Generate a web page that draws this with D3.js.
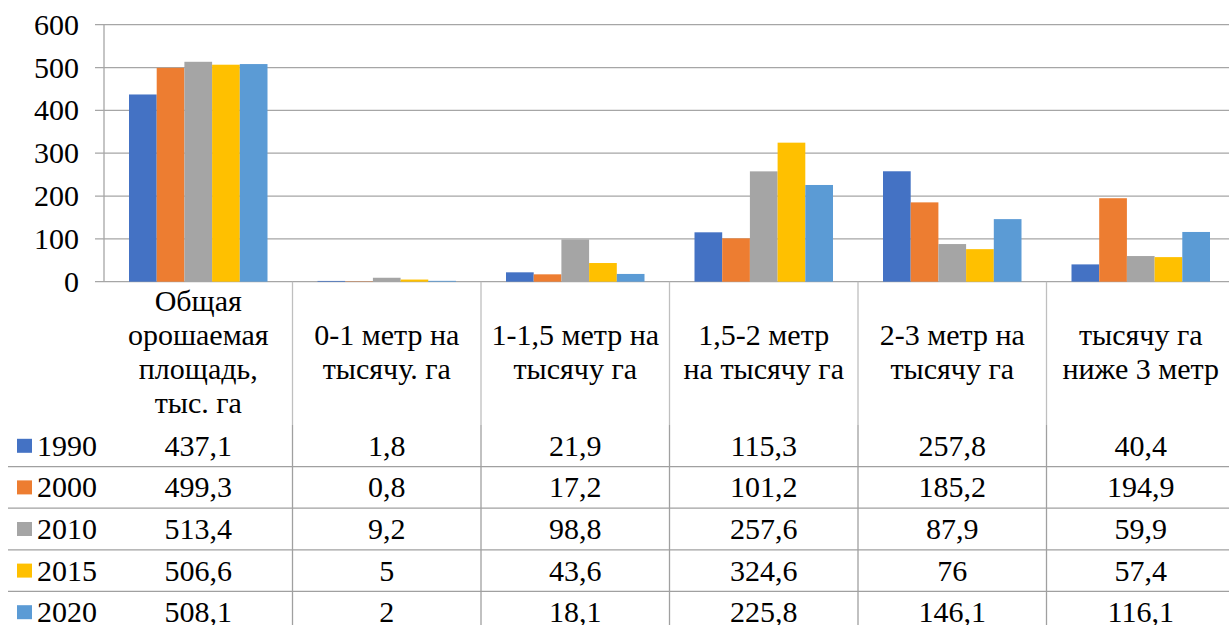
<!DOCTYPE html>
<html><head><meta charset="utf-8"><script src="https://cdn.jsdelivr.net/npm/d3@7"></script>
<style>
  body { margin: 0; }
  svg text { font-family: "Liberation Serif", "Times New Roman", Tinos, serif !important; }
</style>
</head>
<body>
<script>
// chart data
const categories = [
  ["Общая", "орошаемая", "площадь,", "тыс. га"],
  ["0-1 метр на", "тысячу. га"],
  ["1-1,5 метр на", "тысячу га"],
  ["1,5-2 метр", "на тысячу га"],
  ["2-3 метр  на", "тысячу га"],
  ["тысячу га", "ниже 3 метр"]
]
const years = ["1990", "2000", "2010", "2015", "2020"]
const values1990 = [437.1, 1.8, 21.9, 115.3, 257.8, 40.4]
const values2000 = [499.3, 0.8, 17.2, 101.2, 185.2, 194.9]
const values2010 = [513.4, 9.2, 98.8, 257.6, 87.9, 59.9]
const values2015 = [506.6, 5, 43.6, 324.6, 76, 57.4]
const values2020 = [508.1, 2, 18.1, 225.8, 146.1, 116.1]
const labels1990 = ["437,1", "1,8", "21,9", "115,3", "257,8", "40,4"]
const labels2000 = ["499,3", "0,8", "17,2", "101,2", "185,2", "194,9"]
const labels2010 = ["513,4", "9,2", "98,8", "257,6", "87,9", "59,9"]
const labels2015 = ["506,6", "5", "43,6", "324,6", "76", "57,4"]
const labels2020 = ["508,1", "2", "18,1", "225,8", "146,1", "116,1"]
const yTicks = [0, 100, 200, 300, 400, 500, 600]
const colors = ["#4472C4", "#ED7D31", "#A5A5A5", "#FFC000", "#5B9BD5"]

const series = [values1990, values2000, values2010, values2015, values2020]
const seriesLabels = [labels1990, labels2000, labels2010, labels2015, labels2020]

const width = 1229, height = 625
const svg = d3.select('body').append('svg').attr('width', width).attr('height', height)
  .style('display', 'block')
const FONT = '"Times New Roman", "Liberation Serif", serif'

// plot area
const plotLeft = 104, plotRight = 1235, plotTop = 24.7, plotBottom = 281.7
const fontSize = 30

const x = d3.scaleBand().domain(d3.range(categories.length)).range([plotLeft, plotRight])
const xSub = d3.scaleBand().domain(years).range([25, 163.5])
const y = d3.scaleLinear().domain([0, 600]).range([plotBottom, plotTop])

function label(xp, yp, txt, anchor) {
  return svg.append('text').attr('x', xp).attr('y', yp)
    .attr('text-anchor', anchor).attr('font-size', fontSize)
    .attr('font-family', FONT).style('font-family', FONT)
    .attr('fill', '#000')
    .text(txt)
}

// gridlines
svg.append('g').selectAll('line').data(yTicks).enter().append('line')
  .attr('x1', 95).attr('x2', plotRight)
  .attr('y1', d => y(d)).attr('y2', d => y(d))
  .attr('stroke', '#a6a6a6').attr('stroke-width', 1.3)

// y axis line
svg.append('line').attr('x1', plotLeft).attr('x2', plotLeft).attr('y1', plotTop).attr('y2', plotBottom)
  .attr('stroke', '#a6a6a6').attr('stroke-width', 1.3)

// y labels
yTicks.forEach(d => label(79, y(d) + 10, d, 'end'))

// bars
series.forEach((vals, s) => {
  svg.append('g').selectAll('rect').data(vals).enter().append('rect')
    .attr('x', (d, i) => x(i) + xSub(years[s]))
    .attr('width', xSub.bandwidth())
    .attr('y', d => y(d))
    .attr('height', d => plotBottom - y(d))
    .attr('fill', colors[s])
})

// data table
const headerBottom = 425
const rowH = 41.6

// vertical separators
d3.range(1, categories.length).forEach(i => {
  svg.append('line').attr('x1', x(i)).attr('x2', x(i)).attr('y1', plotBottom).attr('y2', headerBottom)
    .attr('stroke', '#bfbfbf').attr('stroke-width', 1.3)
  svg.append('line').attr('x1', x(i)).attr('x2', x(i)).attr('y1', headerBottom).attr('y2', height)
    .attr('stroke', '#a0a0a0').attr('stroke-width', 1.3)
})

// horizontal separators
d3.range(1, years.length).forEach(r => {
  svg.append('line').attr('x1', 8).attr('x2', plotRight)
    .attr('y1', headerBottom + r * rowH).attr('y2', headerBottom + r * rowH)
    .attr('stroke', '#a0a0a0').attr('stroke-width', 1.3)
})

// header labels, one text per line
const lineH = 34
categories.forEach((lines, i) => {
  const cy = (plotBottom + headerBottom) / 2
  const startY = cy - (lines.length - 1) * lineH / 2
  lines.forEach((ln, k) => label(x(i) + x.bandwidth() / 2, startY + k * lineH + 9, ln, 'middle'))
})

// rows
years.forEach((yr, r) => {
  const cy = headerBottom + r * rowH + rowH / 2
  svg.append('rect').attr('x', 17).attr('y', cy - 7).attr('width', 15).attr('height', 14)
    .attr('fill', colors[r])
  label(37, cy + 10, yr, 'start')
  seriesLabels[r].forEach((d, i) => label(x(i) + x.bandwidth() / 2, cy + 10, d, 'middle'))
})
</script>
</body></html>
